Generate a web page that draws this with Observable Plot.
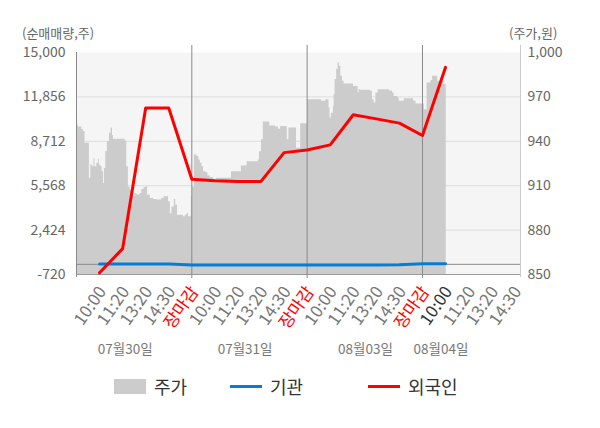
<!DOCTYPE html>
<html><head><meta charset="utf-8">
<script src="https://cdn.jsdelivr.net/npm/d3@7"></script>
<script src="https://cdn.jsdelivr.net/npm/@observablehq/plot@0.6"></script>
<style>
body{margin:0;background:#fff;font-family:"Noto Sans CJK KR","Noto Sans",sans-serif;}
#wrap{position:relative;width:600px;height:428px;overflow:hidden;}
.ttl{position:absolute;font-size:13px;line-height:13px;color:#666;top:26px;white-space:nowrap;}
#legend{position:absolute;top:374px;left:0;width:600px;height:24px;font-size:18px;color:#333;}
.lg{position:absolute;top:0;display:flex;align-items:center;height:24px;}
.sw{display:inline-block;margin-right:8px;}
#chart{position:absolute;left:0;top:0;}
</style></head>
<body><div id="wrap">
<div id="chart"></div>
<div class="ttl" style="left:22px">(순매매량,주)</div>
<div class="ttl" style="left:509px">(주가,원)</div>
<div id="legend">
 <div class="lg" style="left:114px"><span class="sw" style="width:32px;height:15px;background:#cccccc"></span>주가</div>
 <div class="lg" style="left:230px"><span class="sw" style="width:32px;height:3px;background:#0a7ccf"></span>기관</div>
 <div class="lg" style="left:368px"><span class="sw" style="width:32px;height:3px;background:#ff0000"></span>외국인</div>
</div>
</div>
<script>
// slot labels (x index 0..18)
const slotLabels = ["10:00","11:20","13:20","14:30","장마감","10:00","11:20","13:20","14:30","장마감","10:00","11:20","13:20","14:30","장마감","10:00","11:20","13:20","14:30"];
const dayLabels = [{t:1.11,label:"07월30일"},{t:6.31,label:"07월31일"},{t:11.53,label:"08월03일"},{t:14.8,label:"08월04일"}];
const dayDividers = [4, 9, 14];
const currentSlot = 15;
const leftTicks = [-720, 2424, 5568, 8712, 11856, 15000];
const rightTicks = [850, 880, 910, 940, 970, 1000];
// 외국인 net volume by slot
const foreign = [-600, 1110, 11070, 11070, 6020, 5920, 5870, 5870, 7910, 8100, 8460, 10590, 10300, 10000, 9120, 13950];
// 기관 net volume by slot
const inst = [20, 20, 25, 25, -40, -45, -45, -45, -45, -45, -45, -45, -45, -30, 40, 50];
// 주가 (price) : [slot position, price]
const price = [
[-1.00,951],[-0.92,949.6],[-0.77,948],[-0.70,946.6],[-0.63,938.7],[-0.44,915],[-0.38,924],[-0.30,922.8],[-0.24,928.5],[-0.20,922.8],
[-0.12,925.1],[-0.05,927.8],[-0.01,924],[0.05,922.8],[0.11,919.4],[0.17,911.5],[0.21,921.7],[0.27,933],[0.34,939.8],[0.43,945.5],
[0.50,949],[0.56,944],[0.60,941.4],[1.11,940.2],[1.18,922.8],[1.25,909],[1.33,907],[1.44,902.5],[1.54,904.8],[1.62,903.7],
[1.76,904.8],[1.83,907.5],[1.93,908.8],[2.02,909.3],[2.08,903.7],[2.20,901.4],[2.34,900.7],[2.49,900.3],[2.70,901.4],[2.80,902.5],
[2.99,899.2],[3.07,891],[3.14,895.6],[3.24,900.6],[3.30,896.8],[3.38,890],[3.64,889],[3.72,890],[3.79,891],[3.86,889],
[3.98,902.5],[4.03,909],[4.11,930.8],[4.22,929.7],[4.30,927.4],[4.37,925.1],[4.44,922.8],[4.51,919.4],[4.62,918.7],[4.70,916.5],
[4.80,915.6],[4.95,914.2],[5.05,915],[5.72,919.4],[6.15,923.3],[6.40,926.2],[6.88,927.4],[6.93,933],[7.02,941],[7.10,953],
[7.38,950.4],[7.63,949.6],[7.75,948.2],[7.85,950],[8.14,941],[8.21,949],[8.54,935.3],[8.72,951.8],
[9.01,968.1],[9.63,967],[9.80,968.1],[9.95,962.5],[9.99,955.7],[10.05,959],[10.14,963.5],[10.17,971.5],[10.21,981.7],[10.28,988.5],
[10.34,993],[10.40,990.7],[10.46,983.9],[10.53,980.5],[10.60,978.7],[11.01,977.1],[11.21,972.6],[11.25,974.9],[11.33,974.5],[11.76,973.7],
[11.83,968.1],[11.90,965.8],[11.98,972.6],[12.08,974.9],[12.56,974],[12.70,972.6],[12.77,970.3],[12.92,969.5],[12.99,967],[13.21,968.8],
[13.62,967],[13.72,965.2],[14.08,961.3],[14.20,979.4],[14.37,981],[14.44,983.9],[14.66,980.5],[14.74,978.3],[14.84,980.5],[14.93,978.3],
[15.01,978.7],[15.03,978.7]
];

const toLeft = d3.scaleLinear().domain([rightTicks[0], rightTicks[rightTicks.length-1]]).range([leftTicks[0], leftTicks[leftTicks.length-1]]);
const priceRows = price.map(([t,p]) => ({t, v: toLeft(p)}));
const fRows = foreign.map((v,i) => ({t:i, v}));
const iRows = inst.map((v,i) => ({t:i, v}));
const slots = slotLabels.map((label,i) => ({t:i, label, kind: label === "장마감" ? "close" : (i === currentSlot ? "cur" : "time")}));
const lo = leftTicks[0];
const fmt = d => Math.round(d).toLocaleString("en-US");
const tickText = {x: "t", text: "label", frameAnchor: "bottom", dx: 3, dy: 14, rotate: -55, textAnchor: "end", lineAnchor: "middle", fontSize: 17};

const chart = Plot.plot({
  width: 600, height: 370,
  marginLeft: 76, marginRight: 80, marginTop: 52, marginBottom: 96,
  style: {fontFamily: '"Noto Sans CJK KR","Noto Sans",sans-serif', background: "transparent"},
  x: {domain: [-1, 18.25], axis: null},
  y: {domain: [leftTicks[0], leftTicks[leftTicks.length-1]], axis: null},
  marks: [
    Plot.frame({fill: "#f5f5f5", stroke: null}),
    Plot.ruleY(leftTicks.slice(1, -1), {stroke: "#dddddd", strokeWidth: 1}),
    Plot.areaY(priceRows, {x: "t", y1: () => lo, y2: "v", curve: "step-after", fill: "#cccccc"}),
    Plot.ruleY([0], {stroke: "#8a8a8a", strokeWidth: 1}),
    Plot.ruleY([lo], {stroke: "#999999", strokeWidth: 1}),
    Plot.ruleX([-1], {stroke: "#8a8a8a", insetBottom: -3}),
    Plot.ruleX([18.25], {stroke: "#cccccc", insetTop: -7, insetBottom: -3}),
    Plot.ruleX(dayDividers, {stroke: "#8a8a8a", insetTop: -7, insetBottom: -4}),
    Plot.line(iRows, {x: "t", y: "v", stroke: "#0a7ccf", strokeWidth: 3}),
    Plot.line(fRows, {x: "t", y: "v", stroke: "#ff0000", strokeWidth: 3}),
    Plot.axisY(leftTicks, {anchor: "left", tickSize: 0, tickPadding: 11, tickFormat: fmt, fontSize: 14, fill: "#666", label: null}),
    Plot.axisY(rightTicks.map(toLeft), {anchor: "right", tickSize: 0, tickPadding: 7, tickFormat: d => fmt(toLeft.invert(d)), fontSize: 14, fill: "#666", label: null}),
    Plot.text(slots.filter(d => d.kind === "time"), {...tickText, fill: "#777"}),
    Plot.text(slots.filter(d => d.kind === "cur"), {...tickText, fill: "#333"}),
    Plot.text(slots.filter(d => d.kind === "close"), {...tickText, fill: "#ff0000"}),
    Plot.text(dayLabels, {x: "t", text: "label", frameAnchor: "bottom", dy: 79, fontSize: 13.5, fill: "#777"})
  ]
});
document.getElementById("chart").appendChild(chart);
</script>
</body></html>
